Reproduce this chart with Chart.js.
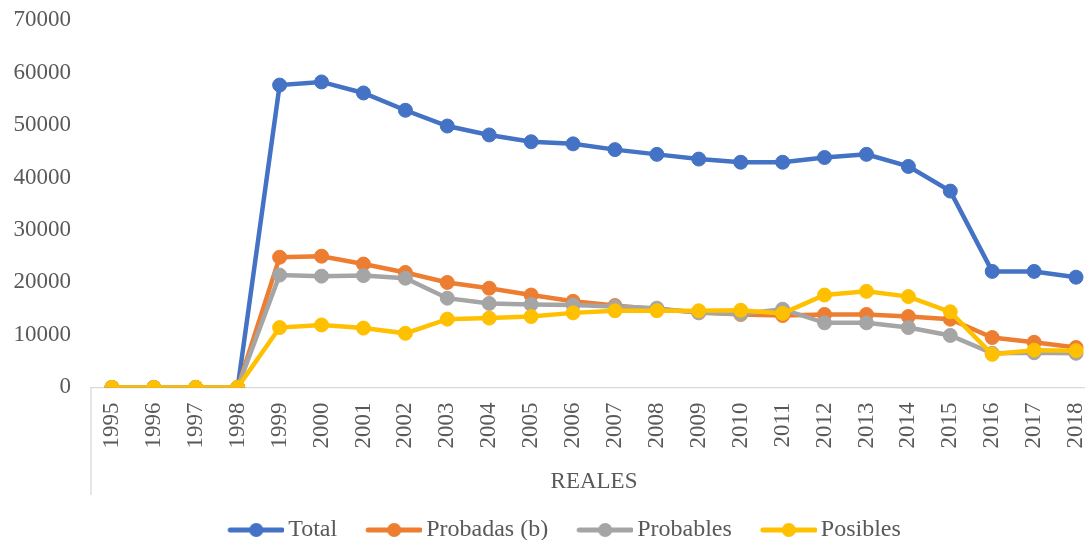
<!DOCTYPE html>
<html>
<head>
<meta charset="utf-8">
<script src="https://cdn.jsdelivr.net/npm/chart.js@4/dist/chart.umd.min.js"></script>
<style>
    html, body { margin: 0; padding: 0; background: #fff; overflow: hidden; }
    #wrap { width: 1085px; height: 540px; overflow: hidden; }
</style>
</head>
<body>
<div id="wrap"><canvas id="grafico" width="1126" height="552"></canvas></div>
<script>
const anios = ['1995', '1996', '1997', '1998', '1999', '2000', '2001', '2002', '2003', '2004', '2005', '2006',
    '2007', '2008', '2009', '2010', '2011', '2012', '2013', '2014', '2015', '2016', '2017', '2018'];
const total = [0, 0, 0, 0, 57600, 58200, 56100, 52800, 49800, 48100, 46800, 46400,
    45300, 44400, 43500, 42900, 42900, 43800, 44400, 42100, 37400, 22100, 22100, 21000];
const probadas = [0, 0, 0, 0, 24800, 25000, 23500, 21900, 20000, 18900, 17600, 16400,
    15600, 14900, 14300, 13900, 13700, 13900, 13900, 13500, 13000, 9500, 8600, 7600];
const probables = [0, 0, 0, 0, 21400, 21200, 21300, 20800, 17000, 16000, 15800, 15700,
    15400, 15100, 14200, 14000, 14900, 12300, 12300, 11400, 9900, 6500, 6600, 6500];
const posibles = [0, 0, 0, 0, 11400, 11900, 11300, 10300, 13000, 13200, 13500, 14200,
    14600, 14600, 14600, 14700, 14100, 17600, 18300, 17300, 14400, 6300, 7100, 7000];
const yTicks = [0, 10000, 20000, 30000, 40000, 50000, 60000, 70000];

const colores = ['#4472C4', '#ED7D31', '#A5A5A5', '#FFC000'];
const serif = "'Liberation Serif', 'Times New Roman', serif";
const gris = '#595959';

// marcador de leyenda: linea con circulo, con hueco a la izquierda para el espaciado
function marcador(color) {
    const c = document.createElement('canvas');
    c.width = 83;
    c.height = 16;
    const ctx = c.getContext('2d');
    ctx.strokeStyle = color;
    ctx.lineWidth = 5;
    ctx.lineCap = 'round';
    ctx.beginPath();
    ctx.moveTo(29, 8);
    ctx.lineTo(81, 8);
    ctx.stroke();
    ctx.fillStyle = color;
    ctx.beginPath();
    ctx.arc(55, 8, 7, 0, Math.PI * 2);
    ctx.fill();
    return c;
}
const marcadores = colores.map(marcador);

function serie(label, data, color, orden) {
    return {
        label: label,
        data: data,
        borderColor: color,
        backgroundColor: color,
        pointBackgroundColor: color,
        pointBorderColor: color,
        borderWidth: 4.5,
        pointRadius: 7,
        pointBorderWidth: 1,
        tension: 0,
        order: orden
    };
}

// linea vertical del eje de categorias agrupado (REALES)
const separador = {
    id: 'separador',
    afterDraw(chart) {
        const ctx = chart.ctx;
        const a = chart.chartArea;
        ctx.save();
        ctx.strokeStyle = '#d9d9d9';
        ctx.lineWidth = 1.3;
        ctx.beginPath();
        ctx.moveTo(a.left, a.bottom);
        ctx.lineTo(a.left, 495);
        ctx.stroke();
        ctx.restore();
    }
};

new Chart(document.getElementById('grafico').getContext('2d'), {
    type: 'line',
    data: {
        labels: anios,
        datasets: [
            serie('Total', total, colores[0], 4),
            serie('Probadas (b)', probadas, colores[1], 3),
            serie('Probables', probables, colores[2], 2),
            serie('Posibles', posibles, colores[3], 1)
        ]
    },
    options: {
        responsive: false,
        animation: false,
        devicePixelRatio: 1,
        layout: { padding: { left: 13, right: 29, top: 20, bottom: 0 } },
        scales: {
            x: {
                offset: true,
                grid: { display: false, drawTicks: false, offset: true },
                border: { display: true, color: '#d9d9d9', width: 1.3 },
                ticks: {
                    minRotation: 90,
                    maxRotation: 90,
                    autoSkip: false,
                    padding: 15,
                    color: gris,
                    font: { family: serif, size: 23 }
                },
                title: {
                    display: true,
                    text: 'REALES',
                    color: gris,
                    font: { family: serif, size: 23 },
                    padding: { top: 5, bottom: 12 }
                },
                afterFit: (scale) => { scale.paddingLeft = 0; scale.paddingRight = 0; }
            },
            y: {
                min: 0,
                max: 70000,
                afterBuildTicks: (scale) => { scale.ticks = yTicks.map(v => ({ value: v })); },
                afterFit: (scale) => {
                    scale.paddingTop = 0;
                    scale.paddingBottom = 0;
                    scale.width = 78;
                },
                grid: { display: false, drawTicks: false },
                border: { display: false },
                ticks: {
                    padding: 20,
                    color: gris,
                    font: { family: serif, size: 23 },
                    callback: (v) => String(v)
                }
            }
        },
        plugins: {
            tooltip: { enabled: false },
            legend: {
                position: 'bottom',
                labels: {
                    usePointStyle: true,
                    pointStyleWidth: 67,
                    padding: 10,
                    color: gris,
                    font: { family: serif, size: 24 },
                    sort: (a, b) => a.datasetIndex - b.datasetIndex,
                    generateLabels: (chart) => {
                        const items = Chart.defaults.plugins.legend.labels.generateLabels(chart);
                        items.forEach(it => { it.pointStyle = marcadores[it.datasetIndex]; });
                        return items;
                    }
                }
            }
        }
    },
    plugins: [separador]
});
</script>
</body>
</html>
